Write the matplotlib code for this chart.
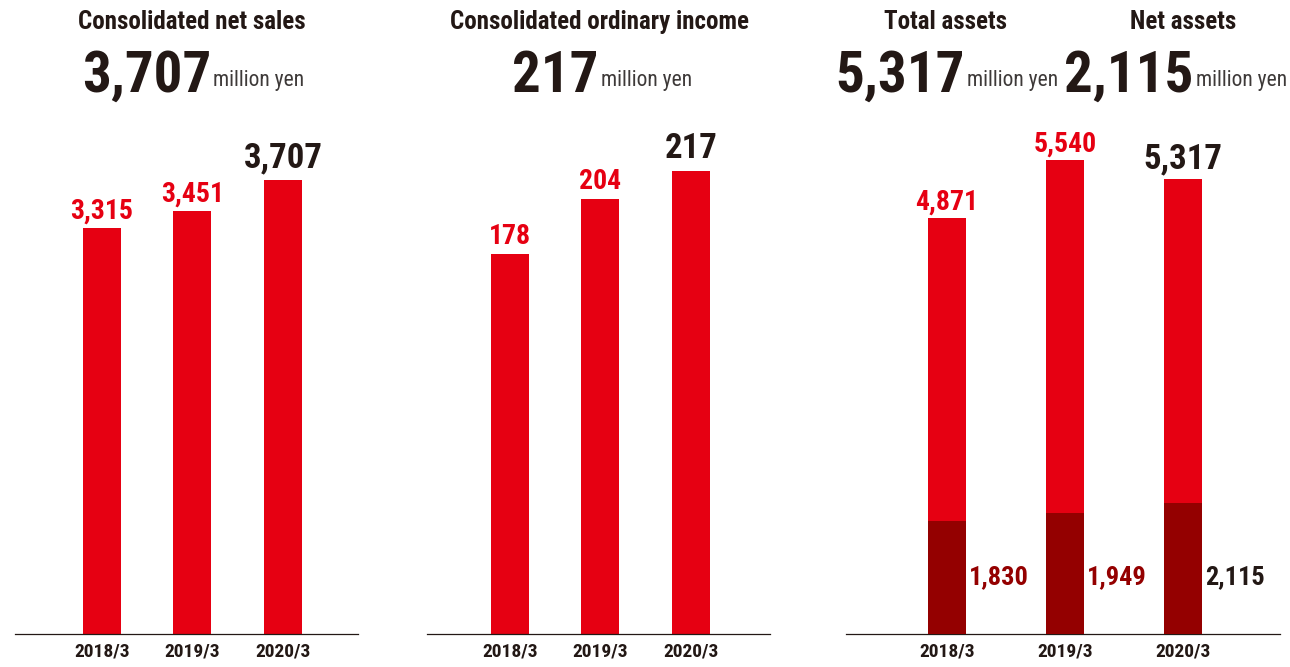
import matplotlib
matplotlib.use('Agg')
import matplotlib.pyplot as plt
import matplotlib.transforms as mtransforms

plt.rcParams['font.family'] = ['Roboto Condensed', 'DejaVu Sans']
plt.rcParams['font.stretch'] = 'condensed'

# data
years = ['2018/3', '2019/3', '2020/3']
net_sales = [3315, 3451, 3707]
ordinary_income = [178, 204, 217]
total_assets = [4871, 5540, 5317]
net_assets = [1830, 1949, 2115]

RED = '#e60012'
DARKRED = '#940000'
DARK = '#231815'
GREY = '#3e3a39'

W, H = 1290, 667
fig = plt.figure(figsize=(W / 100, H / 100), dpi=100)


def px(x, y):
    return x / W, 1 - y / H


def make_axes(left, right, xlim, ylim):
    # axes box in pixel units: baseline at y=634, top at y=100
    ax = fig.add_axes([left / W, 33 / H, (right - left) / W, 534 / H])
    ax.set_xlim(*xlim)
    ax.set_ylim(0, ylim)
    for s in ['left', 'right', 'top']:
        ax.spines[s].set_visible(False)
    ax.spines['bottom'].set_color(DARK)
    ax.spines['bottom'].set_linewidth(0.9)
    ax.set_yticks([])
    ax.set_xticks(range(len(years)))
    ax.set_xticklabels(years, fontsize=14, fontweight='bold', color=DARK)
    ax.tick_params(axis='x', length=0, pad=6)
    ax.patch.set_alpha(0)
    return ax


def value_labels(ax, values, offset=7):
    for i, v in enumerate(values):
        last = i == len(values) - 1
        ax.annotate(f'{v:,}', (i, v), xytext=(0, offset + (2 if last else 0)),
                    textcoords='offset points', ha='center', va='baseline',
                    fontsize=25 if last else 20, fontweight='bold',
                    color=DARK if last else RED)


# panel 1 - net sales
ax1 = make_axes(15, 358, (-0.961, 2.829), 4360)
ax1.bar(range(3), net_sales, 0.42, color=RED)
value_labels(ax1, net_sales)

# panel 2 - ordinary income
ax2 = make_axes(427, 770, (-0.917, 2.873), 250.2)
ax2.bar(range(3), ordinary_income, 0.42, color=RED)
value_labels(ax2, ordinary_income)

# panel 3 - total assets / net assets
ax3 = make_axes(846, 1280, (-0.856, 2.822), 6246)
ax3.bar(range(3), total_assets, 0.322, color=RED)
value_labels(ax3, total_assets, offset=6)

ax3b = ax3.twinx()
ax3b.set_ylim(0, 8627)
ax3b.bar(range(3), net_assets, 0.322, color=DARKRED)
for s in ax3b.spines.values():
    s.set_visible(False)
ax3b.set_yticks([])
trans = mtransforms.blended_transform_factory(ax3.transData, ax3.transAxes)
for i, v in enumerate(net_assets):
    last = i == len(net_assets) - 1
    ax3b.text(i + 0.161 + 0.025, 0.0936, f'{v:,}', transform=trans,
              ha='left', va='baseline', fontsize=19, fontweight='bold',
              color=DARK if last else DARKRED)

# headers
fig.text(*px(192, 29), 'Consolidated net sales', ha='center', va='baseline',
         fontsize=18, fontweight='bold', color=DARK)
fig.text(*px(600, 29), 'Consolidated ordinary income', ha='center', va='baseline',
         fontsize=18, fontweight='bold', color=DARK)
fig.text(*px(946, 29), 'Total assets', ha='center', va='baseline',
         fontsize=18, fontweight='bold', color=DARK)
fig.text(*px(1183, 29), 'Net assets', ha='center', va='baseline',
         fontsize=18, fontweight='bold', color=DARK)

headers = [(193, net_sales[-1]), (602, ordinary_income[-1]),
           (947, total_assets[-1]), (1184, net_assets[-1])]
pairs = []
for cx, v in headers:
    t1 = fig.text(0, 0, f'{v:,}', fontsize=41, fontweight='bold', color=DARK,
                  ha='left', va='baseline')
    t2 = fig.text(0, 0, 'million yen', fontsize=15.5, color=GREY,
                  ha='left', va='baseline')
    pairs.append((cx, t1, t2))

fig.canvas.draw()
r = fig.canvas.get_renderer()
for cx, t1, t2 in pairs:
    w1 = t1.get_window_extent(r).width
    w2 = t2.get_window_extent(r).width
    total = w1 + 2 + w2
    left = min(cx - total / 2, 1287 - total)
    t1.set_position(px(left, 92))
    t2.set_position(px(left + w1 + 2, 86))

fig.savefig('out.png', dpi=100)
